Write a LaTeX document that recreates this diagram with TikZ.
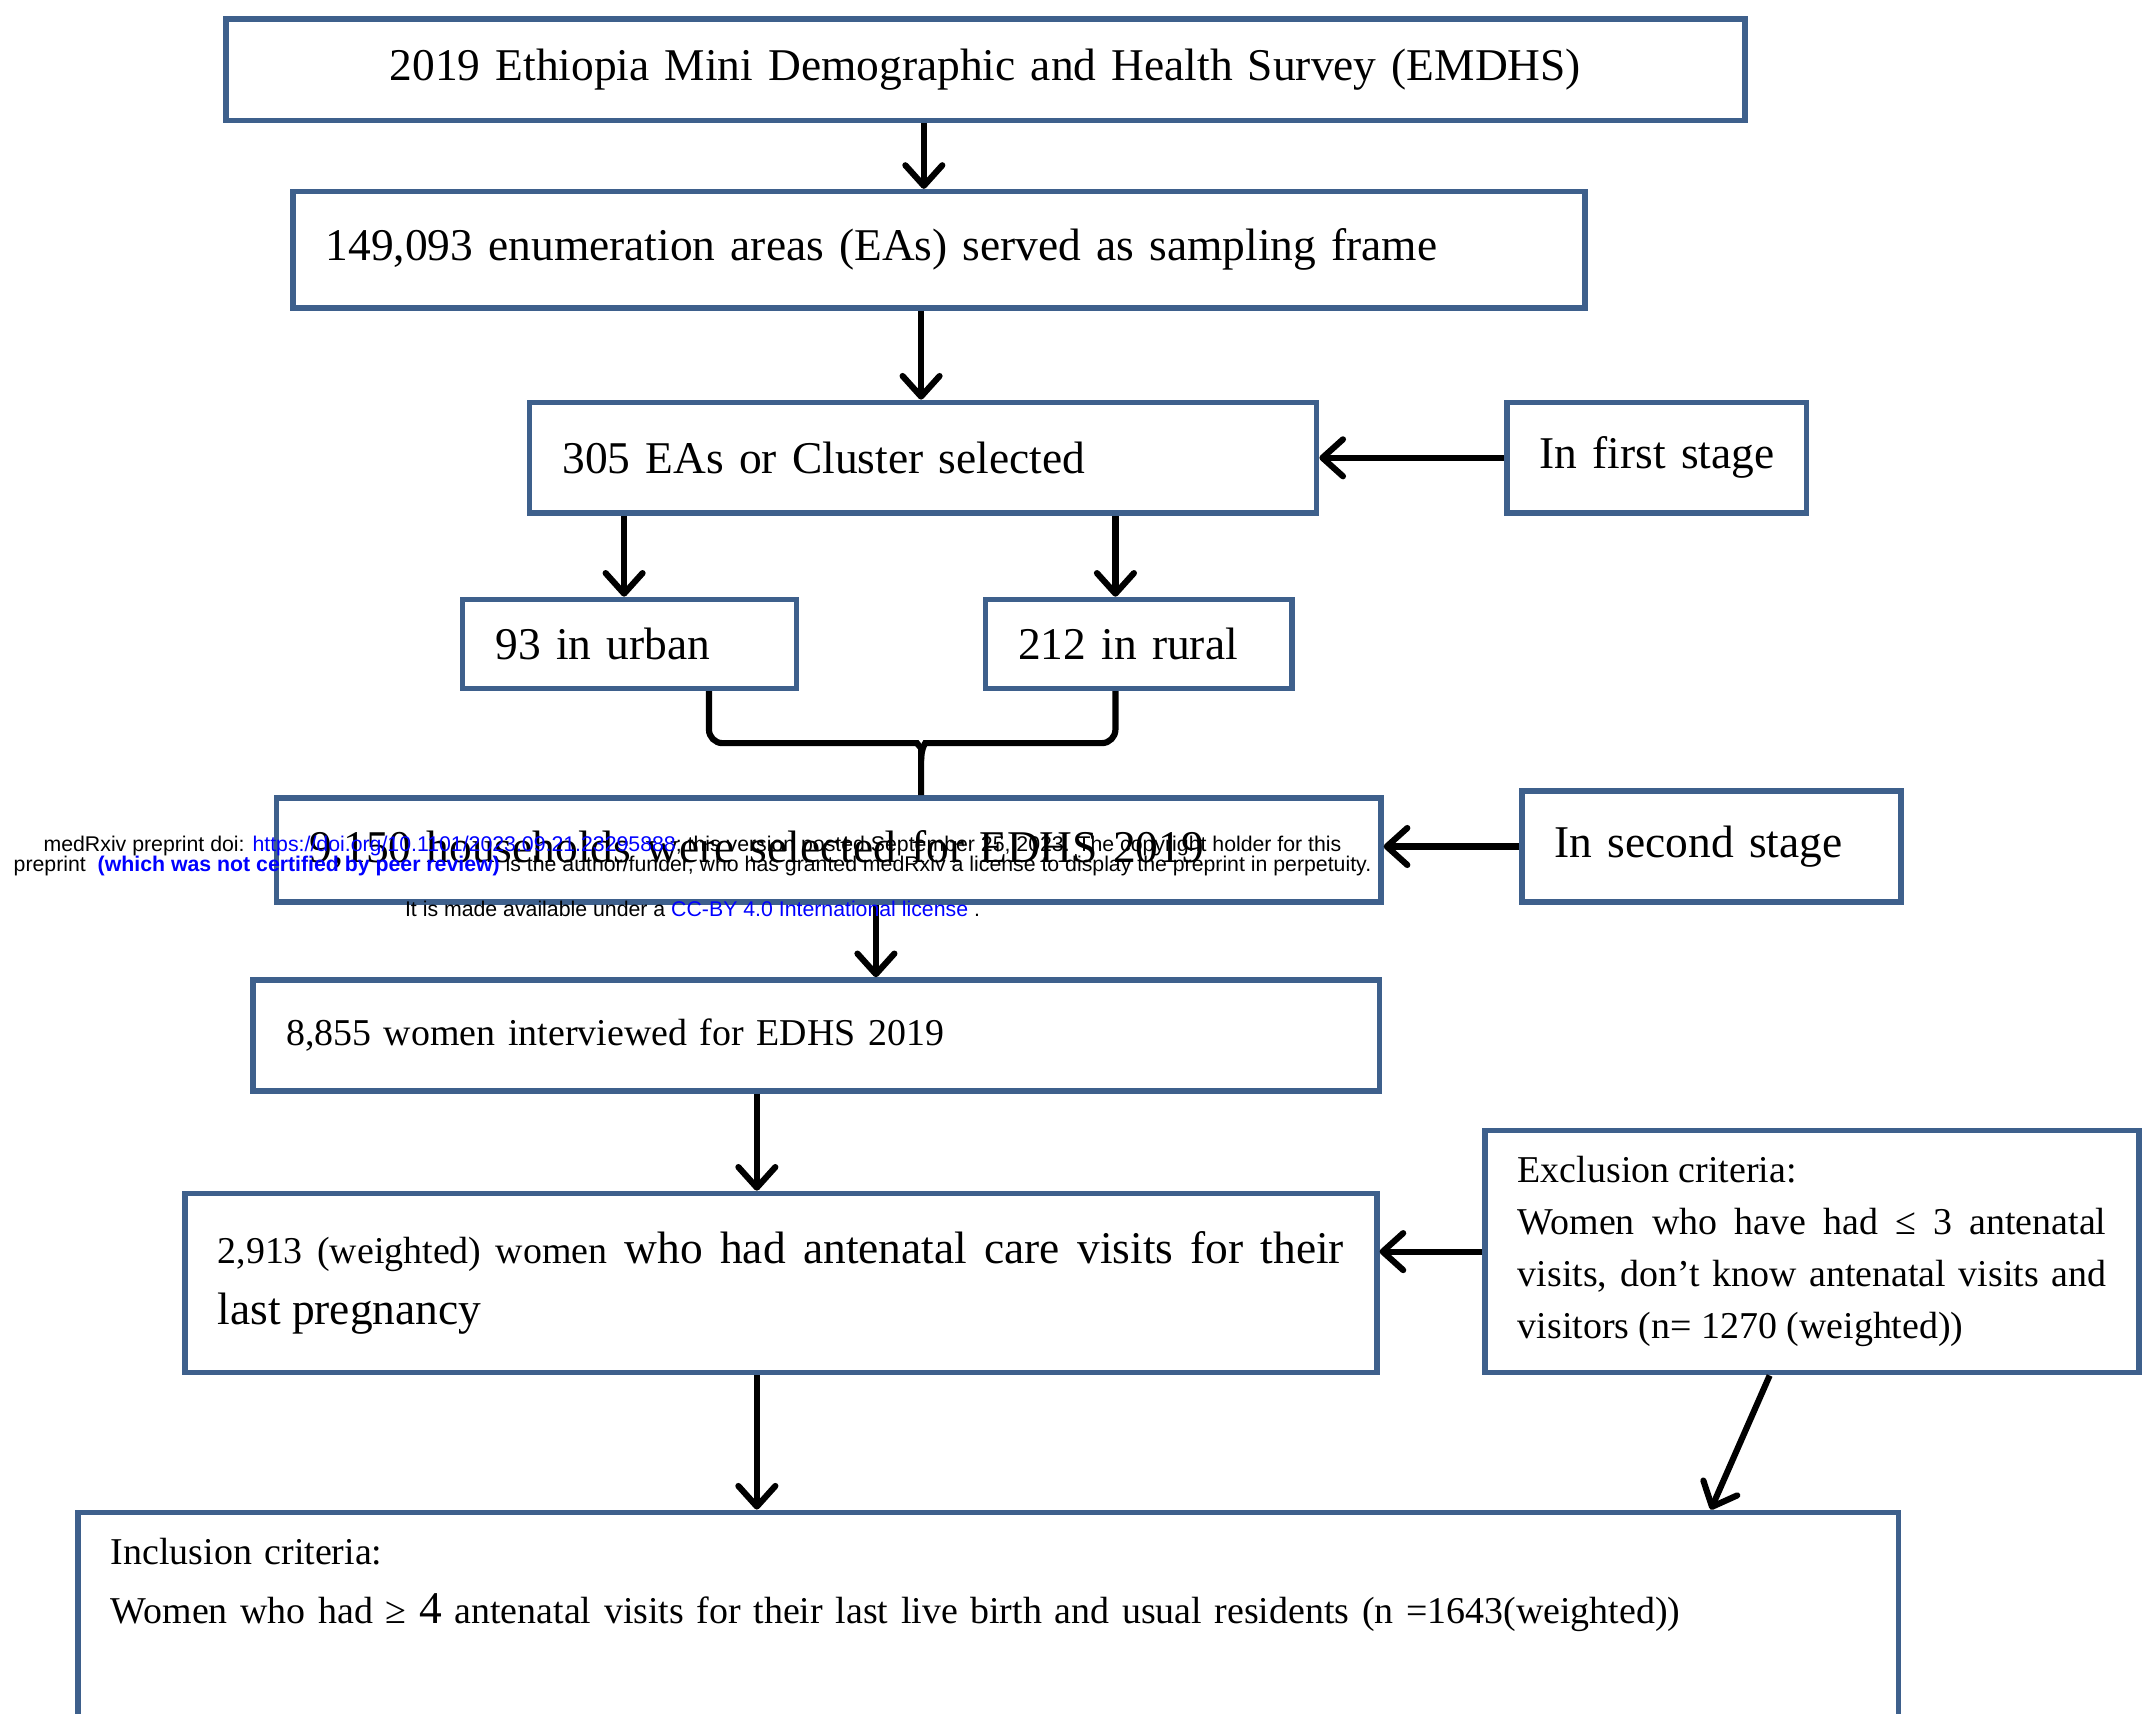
\documentclass[tikz,border=0pt]{standalone}
\usepackage{fontspec}
\setmainfont{Liberation Serif}
\newfontfamily\wmfont{Liberation Sans}
\usetikzlibrary{arrows.meta}
\definecolor{boxblue}{RGB}{62,96,140}
\definecolor{linkblue}{RGB}{0,0,255}
\begin{document}
\begin{tikzpicture}[x=1pt,y=-1pt,
  box/.style={draw=boxblue, line width=4pt, fill=white, anchor=north west, inner xsep=24pt, inner ysep=0pt, align=left, font=\fontsize{33.2}{40}\selectfont},
  small/.style={font=\fontsize{27.7}{38}\selectfont},
  arr/.style={line width=4.5pt, -{Straight Barb[length=15pt,width=27pt,round]}},
  conn/.style={line width=4.5pt, rounded corners=10pt},
  wm/.style={font=\wmfont\fontsize{15.55}{18}\selectfont, inner sep=0pt, anchor=center},
]
\path[use as bounding box, fill=white] (0,0) rectangle (1568,1252);

\node[box, text width=1062pt, align=center, minimum height=74pt] (survey) at (163,12) {2019 Ethiopia Mini Demographic and Health Survey (EMDHS)};
\node[box, text width=896pt, minimum height=85pt] (frame) at (212,138) {\mbox{149,093 enumeration areas (EAs) served as sampling frame}};
\node[box, text width=527pt, minimum height=81pt] (clus) at (385,292) {\mbox{305 EAs or Cluster selected}};
\node[box, text width=171pt, minimum height=81pt] (st1) at (1099,292) {\mbox{In first stage}};
\node[box, text width=196pt, minimum height=65pt] (urban) at (336,436) {\mbox{93 in urban}};
\node[box, text width=176pt, minimum height=65pt] (rural) at (718,436) {\mbox{212 in rural}};
\node[box, text width=759pt, minimum height=76pt] (hh) at (200,581) {\mbox{9,150 households were selected for EDHS 2019}};
\node[box, text width=229pt, minimum height=81pt] (st2) at (1110,576) {\mbox{In second stage}};
\node[box, small, text width=775pt, minimum height=81pt] (women) at (183,714) {\mbox{8,855 women interviewed for EDHS 2019}};
\node[box, text width=823pt, minimum height=131pt, align=justify, font=\fontsize{33.2}{45}\selectfont] (anc) at (133,870) {{\fontsize{27.7}{45}\selectfont 2,913 (weighted) women} who had antenatal care visits for their\linebreak last pregnancy};
\node[box, small, text width=430pt, minimum height=177pt, align=justify] (excl) at (1083,824) {Exclusion criteria:\newline Women who have had ≤ 3 antenatal\linebreak visits, don’t know antenatal visits and\linebreak visitors (n= 1270 (weighted))};
\node[box, font=\fontsize{27.7}{43}\selectfont, text width=1282pt, inner ysep=19pt, text depth=200pt] (incl) at (55,1103) {Inclusion criteria:\\ Women who had ≥ {\fontsize{33.2}{43}\selectfont 4} antenatal visits for their last live birth and usual residents (n =1643(weighted))};

\draw[arr] (675,0 |- survey.south) -- (675,0 |- frame.north);
\draw[arr] (673,0 |- frame.south) -- (673,0 |- clus.north);
\draw[arr] (st1.west) -- (clus.east);
\draw[arr] (456,0 |- clus.south) -- (456,0 |- urban.north);
\draw[arr] (815,0 |- clus.south) -- (815,0 |- rural.north);
\draw[conn] (518,0 |- urban.south) -- (518,543) -- (660,543) .. controls (670,543) and (673,547) .. (673,556) -- (673,0 |- hh.north);
\draw[conn] (815,0 |- rural.south) -- (815,543) -- (686,543) .. controls (676,543) and (673,547) .. (673,556);
\draw[arr] (st2.west) -- (st2.west -| hh.east);
\draw[arr] (640,0 |- hh.south) -- (640,0 |- women.north);
\draw[arr] (553,0 |- women.south) -- (553,0 |- anc.north);
\draw[arr] (excl.west) -- (excl.west -| anc.east);
\draw[arr] (553,0 |- anc.south) -- (553,0 |- incl.north);
\draw[arr] (1293,0 |- excl.south) -- (1250,0 |- incl.north);

\node[wm] (wm1) at (506,618) {medRxiv preprint doi: \textcolor{linkblue}{https://doi.org/10.1101/2023.09.21.23295888}; this version posted September 25, 2023. The copyright holder for this};
\node[wm] (wm2) at (506,633) {preprint \ \textcolor{linkblue}{\bfseries (which was not certified by peer review)} is the author/funder, who has granted medRxiv a license to display the preprint in perpetuity.};
\node[wm] (wm3) at (506,664) {It is made available under a \textcolor{linkblue}{CC-BY 4.0 International license} .};
\end{tikzpicture}
\end{document}
